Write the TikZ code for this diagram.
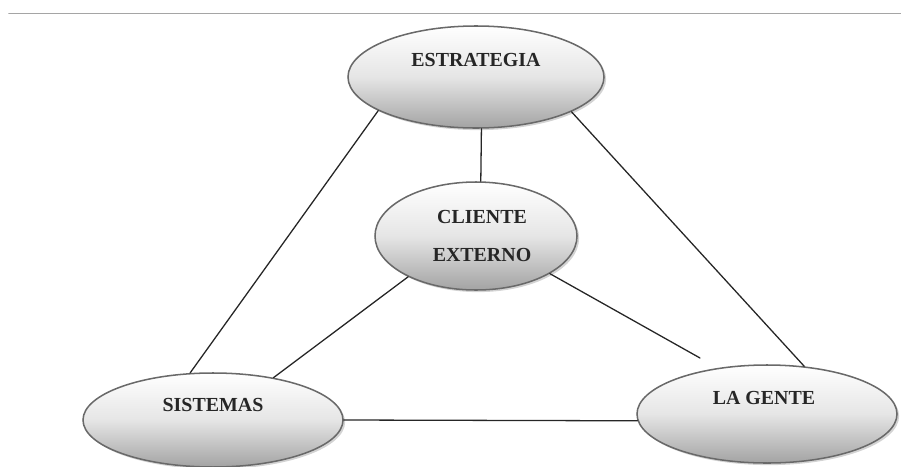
\documentclass[tikz,border=0pt]{standalone}
\usepackage{fontspec}
\setmainfont{Liberation Serif}
\usetikzlibrary{shapes.geometric,shadows}
\definecolor{rimgray}{RGB}{105,105,105}
\definecolor{rulegray}{RGB}{165,165,165}
\tikzset{
    blob/.style={
        ellipse, draw=rimgray, line width=1.3pt, inner sep=0pt,
        top color=white, bottom color=black!36, middle color=black!10,
        drop shadow={shadow xshift=1.8pt,shadow yshift=-1.8pt,opacity=0.35}
    },
    lab/.style={
        font=\fontsize{17}{33}\selectfont\bfseries, text=black!85, align=center
    },
    link/.style={line width=1.1pt, draw=black!85}
}

\begin{document}
\begin{tikzpicture}[x=0.03cm,y=-0.03cm,line cap=round,line join=round]

% --- frame (pixel grid of the reference, y downwards) ---
    \useasboundingbox (0,0) rectangle (901,466);

% top rule
    \draw[rulegray, line width=1.3pt] (9,13.5) -- (901,13.5);

% the four ellipses
    \node[blob, minimum width=7.68cm, minimum height=3.06cm,
          label={[lab,yshift=0.51cm]center:ESTRATEGIA}] (estr) at (476,77) {};
    \node[blob, minimum width=6.06cm, minimum height=3.24cm,
          label={[lab,xshift=0.18cm]center:CLIENTE\\EXTERNO}] (clie) at (476,236) {};
    \node[blob, minimum width=7.8cm, minimum height=2.82cm,
          label={[lab,yshift=0.45cm]center:SISTEMAS}] (sist) at (213,420) {};
    \node[blob, minimum width=7.8cm, minimum height=2.94cm,
          label={[lab,xshift=-0.09cm,yshift=0.48cm]center:LA GENTE}] (gente) at (767,414) {};

% loose end of the line towards LA GENTE
    \coordinate (gentend) at (700,358);

% connectors
    \draw[link] (estr.276) -- (clie.85);
    \draw[link] (estr.199) -- (sist.116);
    \draw[link] (estr.340) -- (gente.52);
    \draw[link] (clie.211) -- (sist.35);
    \draw[link] (clie.333) -- (gentend);
    \draw[link] (sist.east) -- (gente.183);

\end{tikzpicture}
\end{document}
